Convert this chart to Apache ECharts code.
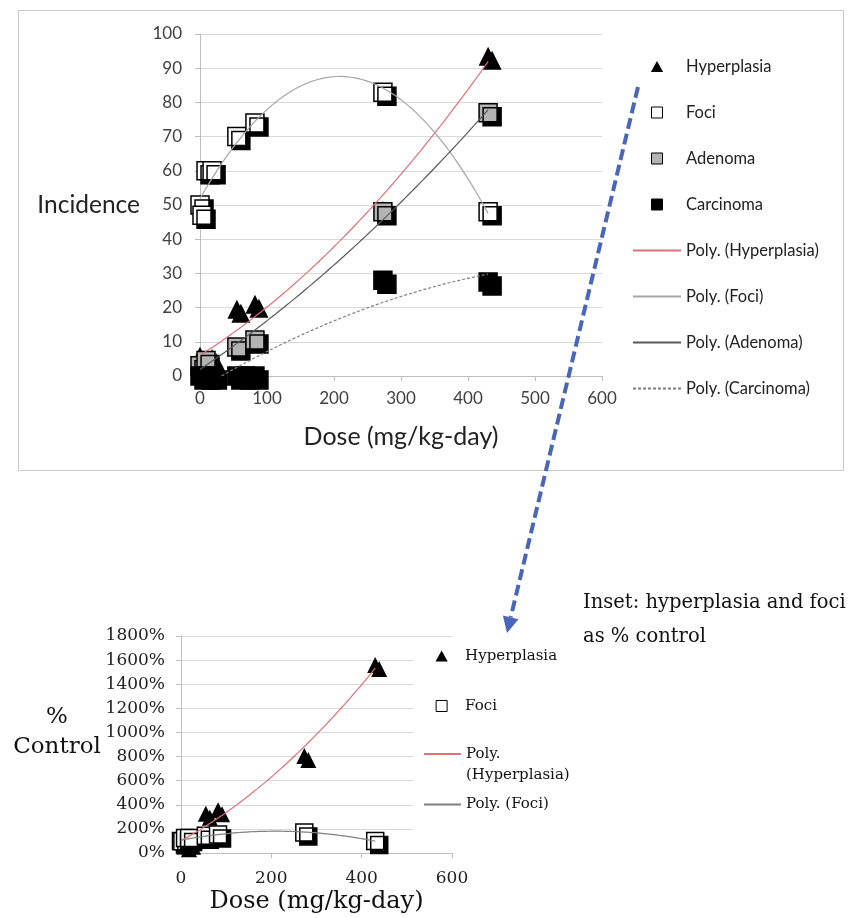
<!DOCTYPE html>
<html>
<head>
<meta charset="utf-8">
<script src="https://cdn.jsdelivr.net/npm/echarts@6/dist/echarts.min.js"></script>
<style>
  html, body { margin: 0; padding: 0; background: #fff; }
  #main { width: 852px; height: 918px; }
</style>
</head>
<body>
<div id="main"></div>
<script>
// ---- Incidence by dose (main panel) ----
const hyperDose = [0, 9, 18, 55, 82, 273, 430];
const hyperInc  = [5.8, 3.9, 5.1, 19.5, 21, 48.4, 93.5];
const fociDose  = [0, 3, 9, 18, 55, 82, 273, 430];
const fociInc   = [50, 47, 60, 60, 70, 74, 83, 48];
const adenDose  = [0, 9, 55, 82, 273, 430];
const adenInc   = [3, 4.5, 8.5, 10.5, 48, 77];
const carcDose  = [0, 10, 20, 55, 68, 82, 273, 430];
const carcInc   = [0, 0, 0, 0, 0, 0, 28, 27.5];

// ---- Inset: hyperplasia and foci as % of control ----
const insetHyperDose = [0, 9, 18, 55, 82, 273, 430];
const insetHyperPct  = [97, 65, 85, 325, 355, 805, 1560];
const insetFociDose  = [0, 3, 9, 18, 55, 82, 273, 430];
const insetFociPct   = [100, 97, 124, 124, 144, 153, 171, 99];

// ---- Axis ticks ----
const mainDoseTicks  = [0, 100, 200, 300, 400, 500, 600];
const mainIncTicks   = [0, 10, 20, 30, 40, 50, 60, 70, 80, 90, 100];
const insetDoseTicks = [0, 200, 400, 600];
const insetPctTicks  = [0, 200, 400, 600, 800, 1000, 1200, 1400, 1600, 1800];

const zip = (xs, ys) => xs.map((x, i) => [x, ys[i]]);

// Second-order least-squares fit (y = a + b x + c x^2), like a spreadsheet "Poly." trendline
function quadFit(xs, ys) {
  let n = xs.length, s1 = 0, s2 = 0, s3 = 0, s4 = 0, t0 = 0, t1 = 0, t2 = 0;
  for (let i = 0; i < n; i++) {
    const x = xs[i], y = ys[i], x2 = x * x;
    s1 += x; s2 += x2; s3 += x2 * x; s4 += x2 * x2;
    t0 += y; t1 += x * y; t2 += x2 * y;
  }
  const M = [[n, s1, s2], [s1, s2, s3], [s2, s3, s4]];
  const R = [t0, t1, t2];
  const det = m => m[0][0] * (m[1][1] * m[2][2] - m[1][2] * m[2][1])
                 - m[0][1] * (m[1][0] * m[2][2] - m[1][2] * m[2][0])
                 + m[0][2] * (m[1][0] * m[2][1] - m[1][1] * m[2][0]);
  const D = det(M);
  return [0, 1, 2].map(k => det(M.map((row, r) => row.map((v, c) => (c === k ? R[r] : v)))) / D);
}
function trendLine(xs, ys) {
  const [a, b, c] = quadFit(xs, ys);
  const x0 = Math.min(...xs), x1 = Math.max(...xs), steps = 80, pts = [];
  for (let i = 0; i <= steps; i++) {
    const x = x0 + (x1 - x0) * i / steps;
    pts.push([x, a + b * x + c * x * x]);
  }
  return pts;
}

const sans = 'Lato, "Open Sans", sans-serif';
const serif = '"DejaVu Serif", serif';
const dropShadow = { opacity: 1, shadowColor: '#000', shadowBlur: 0, shadowOffsetX: 4, shadowOffsetY: 4 };
const legendItem = { opacity: 1, shadowColor: 'rgba(0,0,0,0)', shadowBlur: 0, shadowOffsetX: 0, shadowOffsetY: 0, borderWidth: 1 };
const gridGray = '#d9d9d9';
const axisGray = '#bfbfbf';

// legend icons: aspect-kept paths so markers stay small inside the wide legend slot
const triIcon = 'path://M5,0L10,9L0,9Z';
const sqIcon  = 'path://M0,0H10V10H0Z';
const markerEntry = (name, icon) => ({ name, icon });
const lineEntry = name => ({ name, icon: 'inherit', itemStyle: { opacity: 0 } });

const insetLabels = {
  'Hyperplasia %': 'Hyperplasia',
  'Foci %': 'Foci',
  // leading blank line keeps the line sample level with "Poly."
  'Poly. (Hyperplasia) %': '\nPoly.\n(Hyperplasia)',
  'Poly. (Foci) %': 'Poly. (Foci)'
};

function valueAxis(ticks, extra) {
  return Object.assign({
    type: 'value',
    min: ticks[0],
    max: ticks[ticks.length - 1],
    interval: ticks[1] - ticks[0],
    axisLine: { show: true, lineStyle: { color: axisGray, width: 1 } },
    axisTick: { show: true, length: 5, lineStyle: { color: axisGray } },
    splitLine: { show: false }
  }, extra);
}

function insetLegend(left, top, names, gap) {
  return {
    orient: 'vertical', left: left, top: top, padding: 0,
    itemWidth: 37, itemHeight: 11, itemGap: gap, itemTextGap: 5,
    symbolKeepAspect: true, selectedMode: false,
    formatter: n => insetLabels[n],
    textStyle: { color: '#111', fontSize: 15, fontFamily: serif, lineHeight: 21 },
    itemStyle: legendItem,
    data: names
  };
}

const chart = echarts.init(document.getElementById('main'), null, { renderer: 'canvas' });

chart.setOption({
  animation: false,
  backgroundColor: '#fff',
  grid: [
    { left: 200, right: 250, top: 34, bottom: 542 },
    { left: 181, right: 400, top: 636, bottom: 65 }
  ],
  xAxis: [
    valueAxis(mainDoseTicks, {
      gridIndex: 0,
      axisLabel: { color: '#404040', fontSize: 17, fontFamily: sans, margin: 14 },
      name: 'Dose (mg/kg-day)', nameLocation: 'middle', nameGap: 48,
      nameTextStyle: { color: '#222', fontSize: 25, fontFamily: sans }
    }),
    valueAxis(insetDoseTicks, {
      gridIndex: 1,
      axisLabel: { color: '#222', fontSize: 17, fontFamily: serif, margin: 17 },
      name: 'Dose (mg/kg-day)', nameLocation: 'middle', nameGap: 37,
      nameTextStyle: { color: '#111', fontSize: 24, fontFamily: serif }
    })
  ],
  yAxis: [
    valueAxis(mainIncTicks, {
      gridIndex: 0,
      splitLine: { show: true, lineStyle: { color: gridGray, width: 1 } },
      axisLabel: { color: '#404040', fontSize: 17, fontFamily: sans, margin: 18 },
      name: 'Incidence', nameLocation: 'middle', nameRotate: 0, nameGap: 60,
      nameTextStyle: { color: '#222', fontSize: 24.5, fontFamily: sans }
    }),
    valueAxis(insetPctTicks, {
      gridIndex: 1,
      splitLine: { show: true, lineStyle: { color: gridGray, width: 1 } },
      axisLabel: { color: '#222', fontSize: 17, fontFamily: serif, margin: 16, formatter: v => v + '%' }
    })
  ],
  legend: [
    {
      orient: 'vertical', left: 632, top: 58, padding: 0,
      itemWidth: 48, itemHeight: 11, itemGap: 29, itemTextGap: 13,
      symbolKeepAspect: true, selectedMode: false,
      textStyle: { color: '#222', fontSize: 16.5, fontFamily: sans, lineHeight: 16 },
      itemStyle: legendItem,
      data: [
        markerEntry('Hyperplasia', triIcon),
        markerEntry('Foci', sqIcon),
        markerEntry('Adenoma', sqIcon),
        markerEntry('Carcinoma', sqIcon),
        lineEntry('Poly. (Hyperplasia)'),
        lineEntry('Poly. (Foci)'),
        lineEntry('Poly. (Adenoma)'),
        lineEntry('Poly. (Carcinoma)')
      ]
    },
    // marker-only block: its bounding box starts at the marker, so it is offset by the marker inset
    insetLegend(435.5, 645.5, [markerEntry('Hyperplasia %', triIcon), markerEntry('Foci %', sqIcon)], 29),
    insetLegend(423, 722.5, [lineEntry('Poly. (Hyperplasia) %')], 10),
    insetLegend(423, 794, [lineEntry('Poly. (Foci) %')], 10)
  ],
  graphic: [
    // panel frame of the main chart
    { type: 'rect', z: 0, silent: true,
      shape: { x: 18.5, y: 10.5, width: 825, height: 460 },
      style: { fill: 'none', stroke: '#c8c8c8', lineWidth: 1 } },
    // white legend box of the inset (sits over the grid lines)
    { type: 'rect', z: 3, silent: true,
      shape: { x: 413, y: 643, width: 165, height: 193 },
      style: { fill: '#fff' } },
    // y-axis title of the inset
    { type: 'text', z: 10, silent: true, x: 57, y: 702,
      style: { text: '%\nControl', fill: '#111', align: 'center', textAlign: 'center',
               font: '23px "DejaVu Serif", serif', lineHeight: 30 } },
    // caption of the inset
    { type: 'text', z: 10, silent: true, left: 583, top: 586,
      style: { text: 'Inset: hyperplasia and foci\nas % control', fill: '#111',
               font: '19.5px "DejaVu Serif", serif', lineHeight: 34 } },
    // dashed pointer from the main chart to the inset
    { type: 'polyline', z: 10, silent: true,
      shape: { points: [[638, 87], [510.7, 617.4]] },
      style: { stroke: '#4a66b8', lineWidth: 4, lineDash: [11, 5], fill: 'none' } },
    { type: 'polygon', z: 10, silent: true,
      shape: { points: [[518.5, 619.2], [502.9, 615.6], [507, 633]] },
      style: { fill: '#4a66b8' } }
  ],
  series: [
    { name: 'Hyperplasia', type: 'scatter', xAxisIndex: 0, yAxisIndex: 0,
      symbol: 'triangle', symbolSize: 19, data: zip(hyperDose, hyperInc),
      itemStyle: Object.assign({ color: '#000' }, dropShadow), emphasis: { disabled: true } },
    { name: 'Foci', type: 'scatter', xAxisIndex: 0, yAxisIndex: 0,
      symbol: 'rect', symbolSize: 18, data: zip(fociDose, fociInc),
      itemStyle: Object.assign({ color: '#fff', borderColor: '#000', borderWidth: 1.5 }, dropShadow),
      emphasis: { disabled: true } },
    { name: 'Adenoma', type: 'scatter', xAxisIndex: 0, yAxisIndex: 0,
      symbol: 'rect', symbolSize: 18, data: zip(adenDose, adenInc),
      itemStyle: Object.assign({ color: '#b3b3b3', borderColor: '#000', borderWidth: 1.5 }, dropShadow),
      emphasis: { disabled: true } },
    { name: 'Carcinoma', type: 'scatter', xAxisIndex: 0, yAxisIndex: 0,
      symbol: 'rect', symbolSize: 18, data: zip(carcDose, carcInc),
      itemStyle: Object.assign({ color: '#000', borderColor: '#000', borderWidth: 1.5 }, dropShadow),
      emphasis: { disabled: true } },
    { name: 'Poly. (Hyperplasia)', type: 'line', xAxisIndex: 0, yAxisIndex: 0, z: 5,
      symbol: 'none', data: trendLine(hyperDose, hyperInc),
      lineStyle: { color: '#e07078', width: 1.2 }, itemStyle: { color: '#e07078' }, emphasis: { disabled: true } },
    { name: 'Poly. (Foci)', type: 'line', xAxisIndex: 0, yAxisIndex: 0, z: 5,
      symbol: 'none', data: trendLine(fociDose, fociInc),
      lineStyle: { color: '#a6a6a6', width: 1.2 }, itemStyle: { color: '#a6a6a6' }, emphasis: { disabled: true } },
    { name: 'Poly. (Adenoma)', type: 'line', xAxisIndex: 0, yAxisIndex: 0, z: 5,
      symbol: 'none', data: trendLine(adenDose, adenInc),
      lineStyle: { color: '#595959', width: 1.2 }, itemStyle: { color: '#595959' }, emphasis: { disabled: true } },
    { name: 'Poly. (Carcinoma)', type: 'line', xAxisIndex: 0, yAxisIndex: 0, z: 5,
      symbol: 'none', data: trendLine(carcDose, carcInc),
      lineStyle: { color: '#7f7f7f', width: 1.2, type: [3, 2] }, itemStyle: { color: '#7f7f7f' }, emphasis: { disabled: true } },

    { name: 'Hyperplasia %', type: 'scatter', xAxisIndex: 1, yAxisIndex: 1,
      symbol: 'triangle', symbolSize: 16, data: zip(insetHyperDose, insetHyperPct),
      itemStyle: Object.assign({ color: '#000' }, dropShadow), emphasis: { disabled: true } },
    { name: 'Foci %', type: 'scatter', xAxisIndex: 1, yAxisIndex: 1,
      symbol: 'rect', symbolSize: 17, data: zip(insetFociDose, insetFociPct),
      itemStyle: Object.assign({ color: '#fff', borderColor: '#000', borderWidth: 1.5 }, dropShadow),
      emphasis: { disabled: true } },
    { name: 'Poly. (Hyperplasia) %', type: 'line', xAxisIndex: 1, yAxisIndex: 1, z: 5,
      symbol: 'none', data: trendLine(insetHyperDose, insetHyperPct),
      lineStyle: { color: '#e07078', width: 1.2 }, itemStyle: { color: '#e07078' }, emphasis: { disabled: true } },
    { name: 'Poly. (Foci) %', type: 'line', xAxisIndex: 1, yAxisIndex: 1, z: 5,
      symbol: 'none', data: trendLine(insetFociDose, insetFociPct),
      lineStyle: { color: '#7f7f7f', width: 1.2 }, itemStyle: { color: '#7f7f7f' }, emphasis: { disabled: true } }
  ]
});
</script>
</body>
</html>
